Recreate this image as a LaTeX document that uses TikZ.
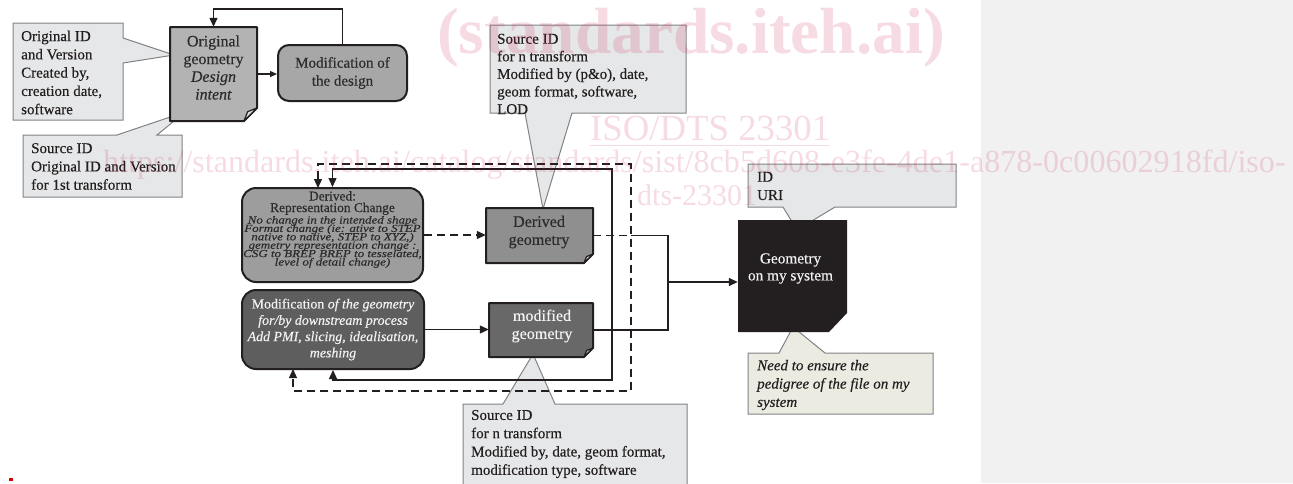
\documentclass[tikz,border=0pt]{standalone}
\usepackage{fontspec}
\setmainfont{Liberation Serif}[FakeBold=0.35]
\newfontfamily\wmfont{Liberation Serif}
\newfontfamily\drital{Liberation Serif Italic}[FakeStretch=1.2,FakeBold=0.3]
\usepackage{graphicx}
\usetikzlibrary{arrows.meta}
\definecolor{calfill}{HTML}{E6E7E8}
\definecolor{calline}{HTML}{808285}
\definecolor{ink}{HTML}{231F20}
\definecolor{ogfill}{HTML}{B3B3B3}
\definecolor{mdfill}{HTML}{A7A7A7}
\definecolor{drfill}{HTML}{9D9D9D}
\definecolor{dgfill}{HTML}{8F8F8F}
\definecolor{mgfill}{HTML}{5E5E5E}
\definecolor{modfill}{HTML}{686868}
\definecolor{gsfill}{HTML}{231F20}
\definecolor{pedfill}{HTML}{ECEBE2}
\definecolor{panelgrey}{HTML}{F1F1F1}
\definecolor{wmpink}{HTML}{C81E50}
\definecolor{darktext}{HTML}{2B2B2B}
\definecolor{lighttext}{HTML}{F2F2F2}
\newcommand\mydocshape[6]{%
  \draw[draw=ink, line width=2pt, line join=round, fill=#6] (#1,#2) -- (#3,#2) -- (#3,#4-#5) -- (#3-#5,#4) -- (#1,#4) -- cycle;
  \draw[draw=ink, line width=1.2pt, line join=round, fill=#6!45!white] (#3,#4-#5) -- (#3-#5,#4) -- (#3-0.72*#5,#4-0.72*#5) -- cycle;}
\tikzset{
  callout/.style={fill=calfill, draw=calline, line width=1pt, line join=miter},
  caltext/.style={inner sep=0pt, align=left, text=ink, font=\fontsize{15}{18.3}\selectfont},
  hitbox/.style={inner sep=0pt, draw=none},
  boxtext/.style={inner sep=0pt, align=center, text=darktext},
  rbox/.style={draw=ink, line width=2pt, rounded corners=11pt, inner sep=0pt, align=center, text=darktext},
  conn/.style={draw=ink, line width=1.3pt},
  tipend/.style={-{Triangle[length=9pt,width=8pt]}},
  tipboth/.style={{Triangle[length=9pt,width=8pt]}-{Triangle[length=9pt,width=8pt]}},
  dashedconn/.style={conn, dash pattern=on 8pt off 5pt},
  wmtext/.style={text=wmpink, opacity=0.16, inner sep=0pt, font=\wmfont},
}
\begin{document}
\begin{tikzpicture}[x=1pt,y=-1pt]
\useasboundingbox (0,0) rectangle (1293,483);
\fill[panelgrey] (981,0) rectangle (1293,483);
\fill[red!85!black] (9,478) rectangle (13,481);

% ---- callouts
\filldraw[callout] (13,23) -- (123,23) -- (123,38) -- (174,55) -- (123,63) -- (123,120) -- (13,120) -- cycle;
\node[caltext, anchor=west] (c1) at (21,72.5) {Original ID\\and Version\\Created by,\\creation date,\\software};

\filldraw[callout] (23,135) -- (117,135) -- (185,112) -- (157,135) -- (182,135) -- (182,197) -- (23,197) -- cycle;
\node[caltext, anchor=west] (c2) at (31,166.5) {Source ID\\Original ID and Version\\for 1st transform};

\filldraw[callout] (490,25) -- (686,25) -- (686,113) -- (572,113) -- (543,209) -- (525,113) -- (490,113) -- cycle;
\node[caltext, anchor=west, font=\fontsize{15}{17.6}\selectfont] (c3) at (497,74) {Source ID\\for n transform\\Modified by (p\&o), date,\\geom format, software,\\LOD};

\filldraw[callout] (463,404) -- (503,404) -- (533,354) -- (555,404) -- (687,404) -- (687,495) -- (463,495) -- cycle;
\node[caltext, anchor=west] (c4) at (471,444) {Source ID\\for n transform\\Modified by, date, geom format,\\modification type, software};

\filldraw[callout] (748,164) -- (956,164) -- (956,207) -- (835,207) -- (797,230) -- (783,207) -- (748,207) -- cycle;
\node[caltext, anchor=west] (c5) at (757,186) {ID\\URI};

\filldraw[callout, fill=pedfill] (748,353) -- (779,353) -- (793,327) -- (825,353) -- (933,353) -- (933,414) -- (748,414) -- cycle;
\node[caltext, anchor=west, font=\fontsize{15}{18.3}\selectfont\itshape] (c6) at (757,385) {Need to ensure the\\pedigree of the file on my\\system};

% ---- boxes
\mydocshape{170}{27}{257}{121}{13}{ogfill}
\node[hitbox, minimum width=87pt, minimum height=94pt] (og) at (213.5,74) {};
\node[boxtext, font=\fontsize{15.9}{17.7}\selectfont] (ogt) at (213.5,67.5) {Original\\geometry\\\textit{Design}\\\textit{intent}};

\node[rbox, fill=mdfill, minimum width=129pt, minimum height=56pt, font=\fontsize{15}{18}\selectfont] (md) at (342.5,73) {Modification of\\the design};

\node[rbox, fill=drfill, rounded corners=14pt, minimum width=181pt, minimum height=94pt] (dr) at (332.5,235) {};
\node[boxtext, font=\fontsize{13.4}{11.5}\selectfont] (drt) at (332.5,229.5) {Derived:\\Representation Change\\
{\fontsize{10.8}{11.5}\drital No change in the intended shape}\\[-3.1pt]
{\fontsize{10.8}{11.5}\drital Format change (ie: ative to STEP}\\[-3.1pt]
{\fontsize{10.8}{11.5}\drital native to native, STEP to XYZ,)}\\[-3.1pt]
{\fontsize{10.8}{11.5}\drital gemetry representation change :}\\[-3.1pt]
{\fontsize{10.8}{11.5}\drital CSG to BREP BREP to tesselated,}\\[-3.1pt]
{\fontsize{10.8}{11.5}\drital level of detail change)}};

\node[rbox, fill=mgfill, rounded corners=14pt, minimum width=182pt, minimum height=79pt, text=lighttext, font=\fontsize{13.9}{16.3}\selectfont] (mg) at (333,329.5) {Modification \textit{of the geometry}\\\textit{for/by downstream process}\\\textit{Add PMI, slicing, idealisation,}\\\textit{meshing}};

\mydocshape{486}{208}{593}{263}{9}{dgfill}
\node[hitbox, minimum width=107pt, minimum height=55pt] (dg) at (539.5,235.5) {};
\node[boxtext, font=\fontsize{16.1}{18}\selectfont] (dgt) at (539,232) {Derived\\geometry};

\mydocshape{489}{303}{593}{357}{9}{modfill}
\node[hitbox, minimum width=104pt, minimum height=54pt] (mod) at (541,330) {};
\node[boxtext, text=lighttext, font=\fontsize{16.1}{18}\selectfont] (modt) at (542,326) {modified\\geometry};

\fill[gsfill] (738,220) -- (847,220) -- (847,313) -- (829,332) -- (738,332) -- cycle;
\node[hitbox, minimum width=109pt, minimum height=112pt] (gs) at (792.5,276) {};
\node[boxtext, text=lighttext, font=\fontsize{15.3}{17}\selectfont] (gst) at (790.5,268.5) {Geometry\\on my system};

% ---- connectors
\coordinate (looptop) at (0,9);
\coordinate (sl) at (612,169);
\coordinate (sb) at (612,380);
\coordinate (dl) at (631,164);
\coordinate (db) at (631,391);
\coordinate (bus) at (668,282);
\coordinate (dtl) at (318,188);
\coordinate (dbl) at (293,369);

\draw[conn, -{Triangle[length=7pt,width=6pt]}] (og.east) -- (og.east -| md.west);
\draw[conn, tipend] (md.north) -- (md.north |- looptop) -| (og.north);

\draw[dashedconn, tipend] (dr.east) -- (dr.east -| dg.west);
\draw[conn, tipend] (mg.east) -- (mg.east -| mod.west);

\draw[conn, tipboth] (dr.north) -- (dr.north |- sl) -- (sl) -- (sb) -- (sb -| mg.south) -- (mg.south);
\draw[dashedconn, tipboth] (dtl) -- (dtl |- dl) -- (dl) -- (db) -- (db -| dbl) -- (dbl);

\draw[dashedconn] (dg.east) -- (dg.east -| dl);
\draw[conn] (dg.east -| dl) -| (bus);
\draw[conn] (mod.east) -| (bus);
\draw[conn, tipend] (bus) -- (bus -| gs.west);

% ---- watermark
\node[wmtext, font=\wmfont\bfseries, anchor=base west] (wm1) at (437,53) {\resizebox{508pt}{!}{(standards.iteh.ai)}};
\node[wmtext, anchor=base west] (wm2) at (590,140) {\resizebox{240pt}{!}{\underline{ISO/DTS 23301}}};
\node[wmtext, anchor=base west] (wm3) at (103,172) {\resizebox{1182pt}{!}{https://standards.iteh.ai/catalog/standards/sist/8cb5d608-e3fe-4de1-a878-0c00602918fd/iso-}};
\node[wmtext, anchor=base west] (wm4) at (637,205) {\resizebox{120pt}{!}{dts-23301}};
\end{tikzpicture}
\end{document}
